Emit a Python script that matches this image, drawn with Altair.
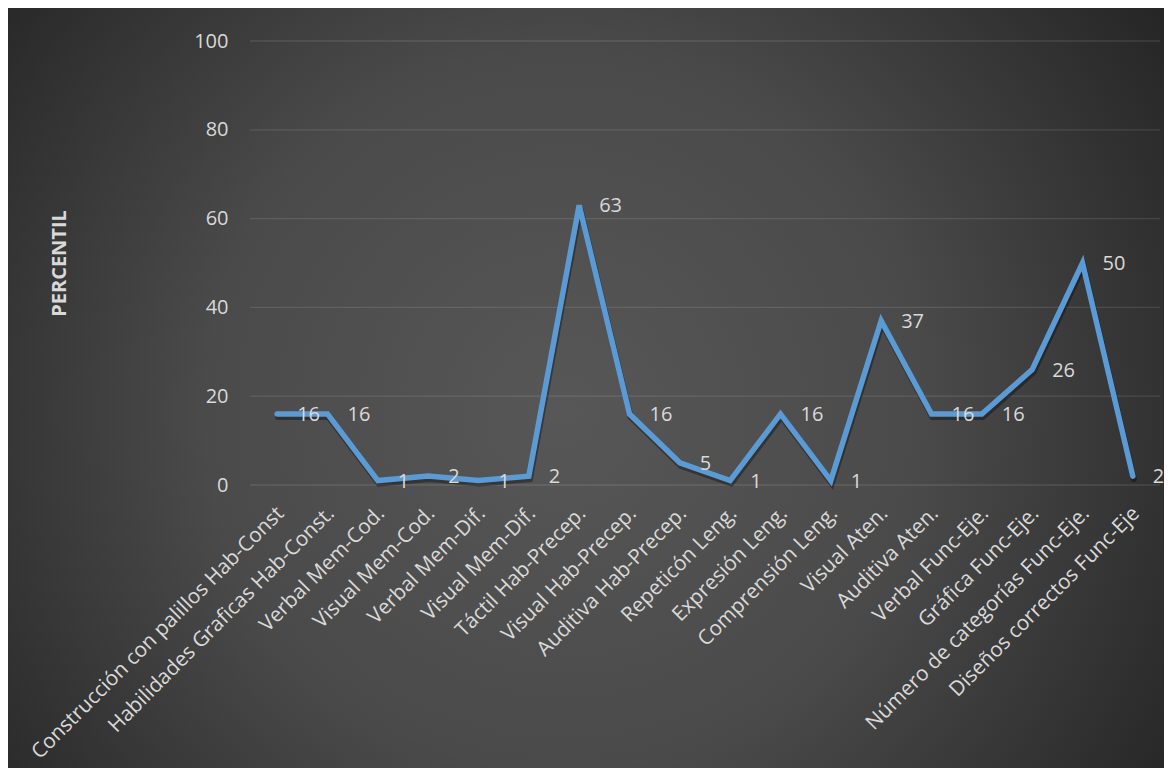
import altair as alt
import pandas as pd

categories = [
    "Construcción con palillos Hab-Const",
    "Habilidades Graficas Hab-Const.",
    "Verbal Mem-Cod.",
    "Visual Mem-Cod.",
    "Verbal Mem-Dif.",
    "Visual Mem-Dif.",
    "Táctil Hab-Precep.",
    "Visual Hab-Precep.",
    "Auditiva Hab-Precep.",
    "Repeticón Leng.",
    "Expresión Leng.",
    "Comprensión Leng.",
    "Visual Aten.",
    "Auditiva Aten.",
    "Verbal Func-Eje.",
    "Gráfica Func-Eje.",
    "Número de categorías Func-Eje.",
    "Diseños correctos Func-Eje",
]
values = [16, 16, 1, 2, 1, 2, 63, 16, 5, 1, 16, 1, 37, 16, 16, 26, 50, 2]
y_ticks = [0, 20, 40, 60, 80, 100]

df = pd.DataFrame({"categoria": categories, "percentil": values})
grid_df = pd.DataFrame({"percentil": y_ticks})

W, H = 906, 444
PL, PT, PR, PB = 244, 33, 6, 283
FONT = "Open Sans"
TXT = "#d9d9d9"

x_enc = alt.X(
    "categoria:N",
    sort=categories,
    title=None,
    axis=alt.Axis(
        labelAngle=-45,
        labelAlign="right",
        labelBaseline="middle",
        labelPadding=25,
        labelOffset=3,
        labelFontSize=20.7,
        labelLimit=500,
        labelColor=TXT,
        labelFont=FONT,
        domain=False,
        ticks=False,
        grid=False,
        zindex=1,
    ),
)
y_scale = alt.Scale(domain=[0, 100])
y_axis = alt.Axis(
    values=y_ticks,
    title="PERCENTIL",
    titleAngle=270,
    titleX=-193,
    titleY=222,
    titleAlign="center",
    titleBaseline="middle",
    titleFontSize=20,
    titleFontWeight="bold",
    titleColor=TXT,
    titleFont=FONT,
    labelFontSize=20,
    labelColor=TXT,
    labelFont=FONT,
    labelPadding=24,
    domain=False,
    ticks=False,
    grid=False,
    zindex=1,
)
y_enc = alt.Y("percentil:Q", scale=y_scale, axis=y_axis)

bg = alt.Chart(pd.DataFrame({"k": [0]})).mark_rect(
    fill={
        "gradient": "radial",
        "x1": 0.48, "y1": 0.52, "r1": 0,
        "x2": 0.48, "y2": 0.52, "r2": 0.62,
        "stops": [
            {"offset": 0, "color": "#575757"},
            {"offset": 0.5, "color": "#4a4a4a"},
            {"offset": 1, "color": "#262626"},
        ],
    },
    stroke=None,
).encode(
    x=alt.value(-PL), x2=alt.value(W + PR),
    y=alt.value(-PT), y2=alt.value(H + PB),
)

grid = alt.Chart(grid_df).mark_rule(
    color="#ffffff", opacity=0.11, strokeWidth=1.3,
).encode(
    y=y_enc,
    x=alt.value(-2), x2=alt.value(W + 2),
)

base = alt.Chart(df)

shadow = base.mark_line(
    color="#000000", opacity=0.35, strokeWidth=6, yOffset=3, xOffset=1,
    strokeCap="round",
).encode(x=x_enc, y=y_enc)

line = base.mark_line(
    color="#5b9bd5", strokeWidth=5.5, strokeCap="round",
).encode(x=x_enc, y=y_enc)

labels = base.mark_text(
    align="left", baseline="middle", dx=20, dy=1,
    fontSize=20, font=FONT, color=TXT,
).encode(x=x_enc, y=y_enc, text="percentil:Q")

chart = alt.layer(bg, grid, shadow, line, labels).properties(
    width=W, height=H,
    autosize=alt.AutoSizeParams(type="none"),
    padding={"left": PL, "top": PT, "right": PR, "bottom": PB},
    background="#2a2a2a",
).configure_view(stroke=None)

chart.save("out.html", embed_options={"renderer": "svg", "actions": False})
